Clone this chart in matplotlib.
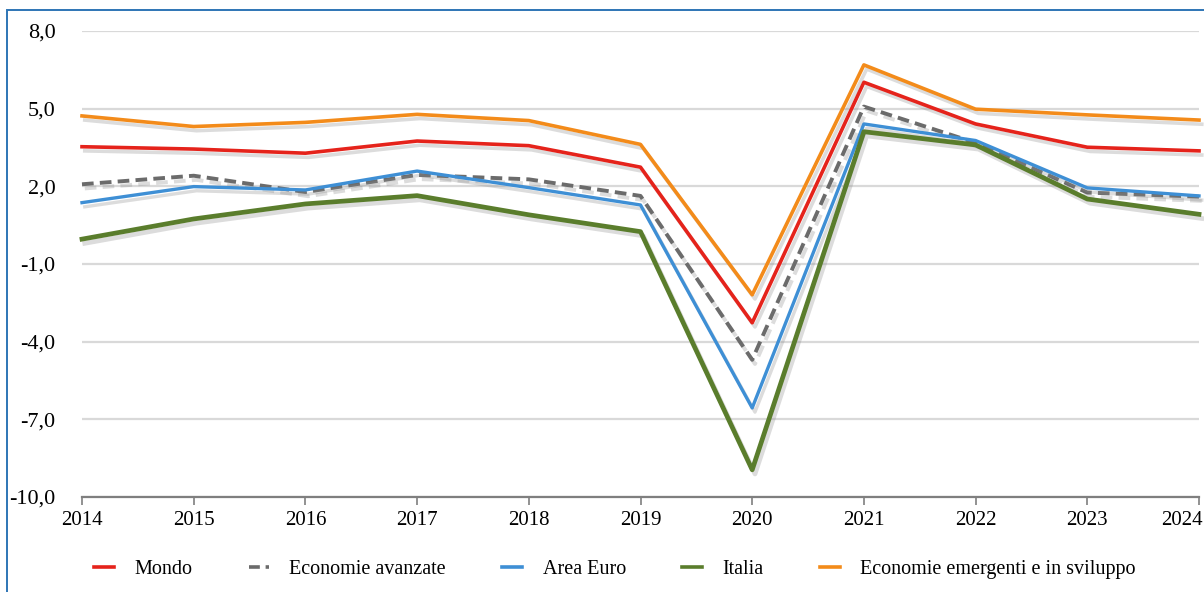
import matplotlib.pyplot as plt
import matplotlib.patheffects as pe
from matplotlib.patches import Rectangle
from matplotlib.lines import Line2D
from matplotlib.ticker import FuncFormatter

plt.rcParams['font.family'] = ['Liberation Serif', 'DejaVu Serif']

anni = [2014, 2015, 2016, 2017, 2018, 2019, 2020, 2021, 2022, 2023, 2024]

mondo = [3.53, 3.44, 3.28, 3.75, 3.57, 2.74, -3.27, 6.02, 4.41, 3.51, 3.37]
avanzate = [2.08, 2.41, 1.78, 2.44, 2.27, 1.63, -4.70, 5.08, 3.68, 1.76, 1.60]
area_euro = [1.37, 1.99, 1.86, 2.59, 1.95, 1.28, -6.56, 4.41, 3.77, 1.94, 1.63]
italia = [-0.04, 0.74, 1.32, 1.64, 0.90, 0.25, -8.95, 4.11, 3.60, 1.51, 0.92]
emergenti = [4.72, 4.31, 4.47, 4.78, 4.54, 3.62, -2.19, 6.69, 4.98, 4.76, 4.56]

y_ticks = [-10, -7, -4, -1, 2, 5, 8]

W, H = 1204, 592
fig = plt.figure(figsize=(W / 100, H / 100), dpi=100)
ax = fig.add_axes([82 / W, (H - 497) / H, (1199 - 82) / W, (497 - 31) / H])

# cornice blu del riquadro (tagliata a destra e in basso)
fig.patches.append(Rectangle((7 / W, -0.1), 1.2, (H - 10) / H + 0.1,
                             transform=fig.transFigure, fill=False,
                             edgecolor='#2E75B6', linewidth=1.4))

shadow = [pe.SimpleLineShadow(offset=(2, -3), shadow_color='#8C8C8C', alpha=0.3),
          pe.Normal()]

series = [
    (mondo, 'Mondo', '#E5231B', '-', 2.6),
    (avanzate, 'Economie avanzate', '#6B6B6B', (0, (3, 1.6)), 2.8),
    (area_euro, 'Area Euro', '#3E8FD5', '-', 2.4),
    (italia, 'Italia', '#5A7D2C', '-', 3.4),
    (emergenti, 'Economie emergenti e in sviluppo', '#F38B1A', '-', 2.6),
]
handles = []
for vals, lab, col, ls, lw in series:
    ax.plot(anni, vals, color=col, linestyle=ls, linewidth=lw,
            path_effects=shadow, clip_on=False, zorder=3)
    handles.append(Line2D([], [], color=col, linestyle=ls, linewidth=2.6, label=lab))

ax.set_xlim(2014, 2024)
ax.set_ylim(-10, 8)
ax.set_yticks(y_ticks)
ax.set_xticks(anni)
# l'ultima etichetta viene scritta a parte, a filo del bordo destro
ax.set_xticklabels([str(a) for a in anni[:-1]] + [''])
ax.annotate(str(anni[-1]), xy=(anni[-1], 0), xycoords=ax.get_xaxis_transform(),
            xytext=(3, -10), textcoords='offset points', ha='right', va='top',
            fontsize=15)
ax.yaxis.set_major_formatter(FuncFormatter(lambda v, p: f'{v:.1f}'.replace('.', ',')))

ax.grid(axis='y', color='#D9D9D9', linewidth=1.6)
ax.set_axisbelow(True)
for s in ['top', 'right', 'left']:
    ax.spines[s].set_visible(False)
ax.spines['bottom'].set_color('#7F7F7F')
ax.spines['bottom'].set_linewidth(1.6)
ax.tick_params(axis='y', length=0, pad=19, labelsize=16)
ax.tick_params(axis='x', length=6, width=1.2, color='#7F7F7F', pad=4, labelsize=15)

fig.legend(handles=handles, loc='center', bbox_to_anchor=(0.5 + 13 / W, 23 / H), ncol=5,
           frameon=False, fontsize=14.5, handlelength=1.0, columnspacing=2.8,
           handletextpad=1.0)

fig.savefig('out.png', dpi=100)
